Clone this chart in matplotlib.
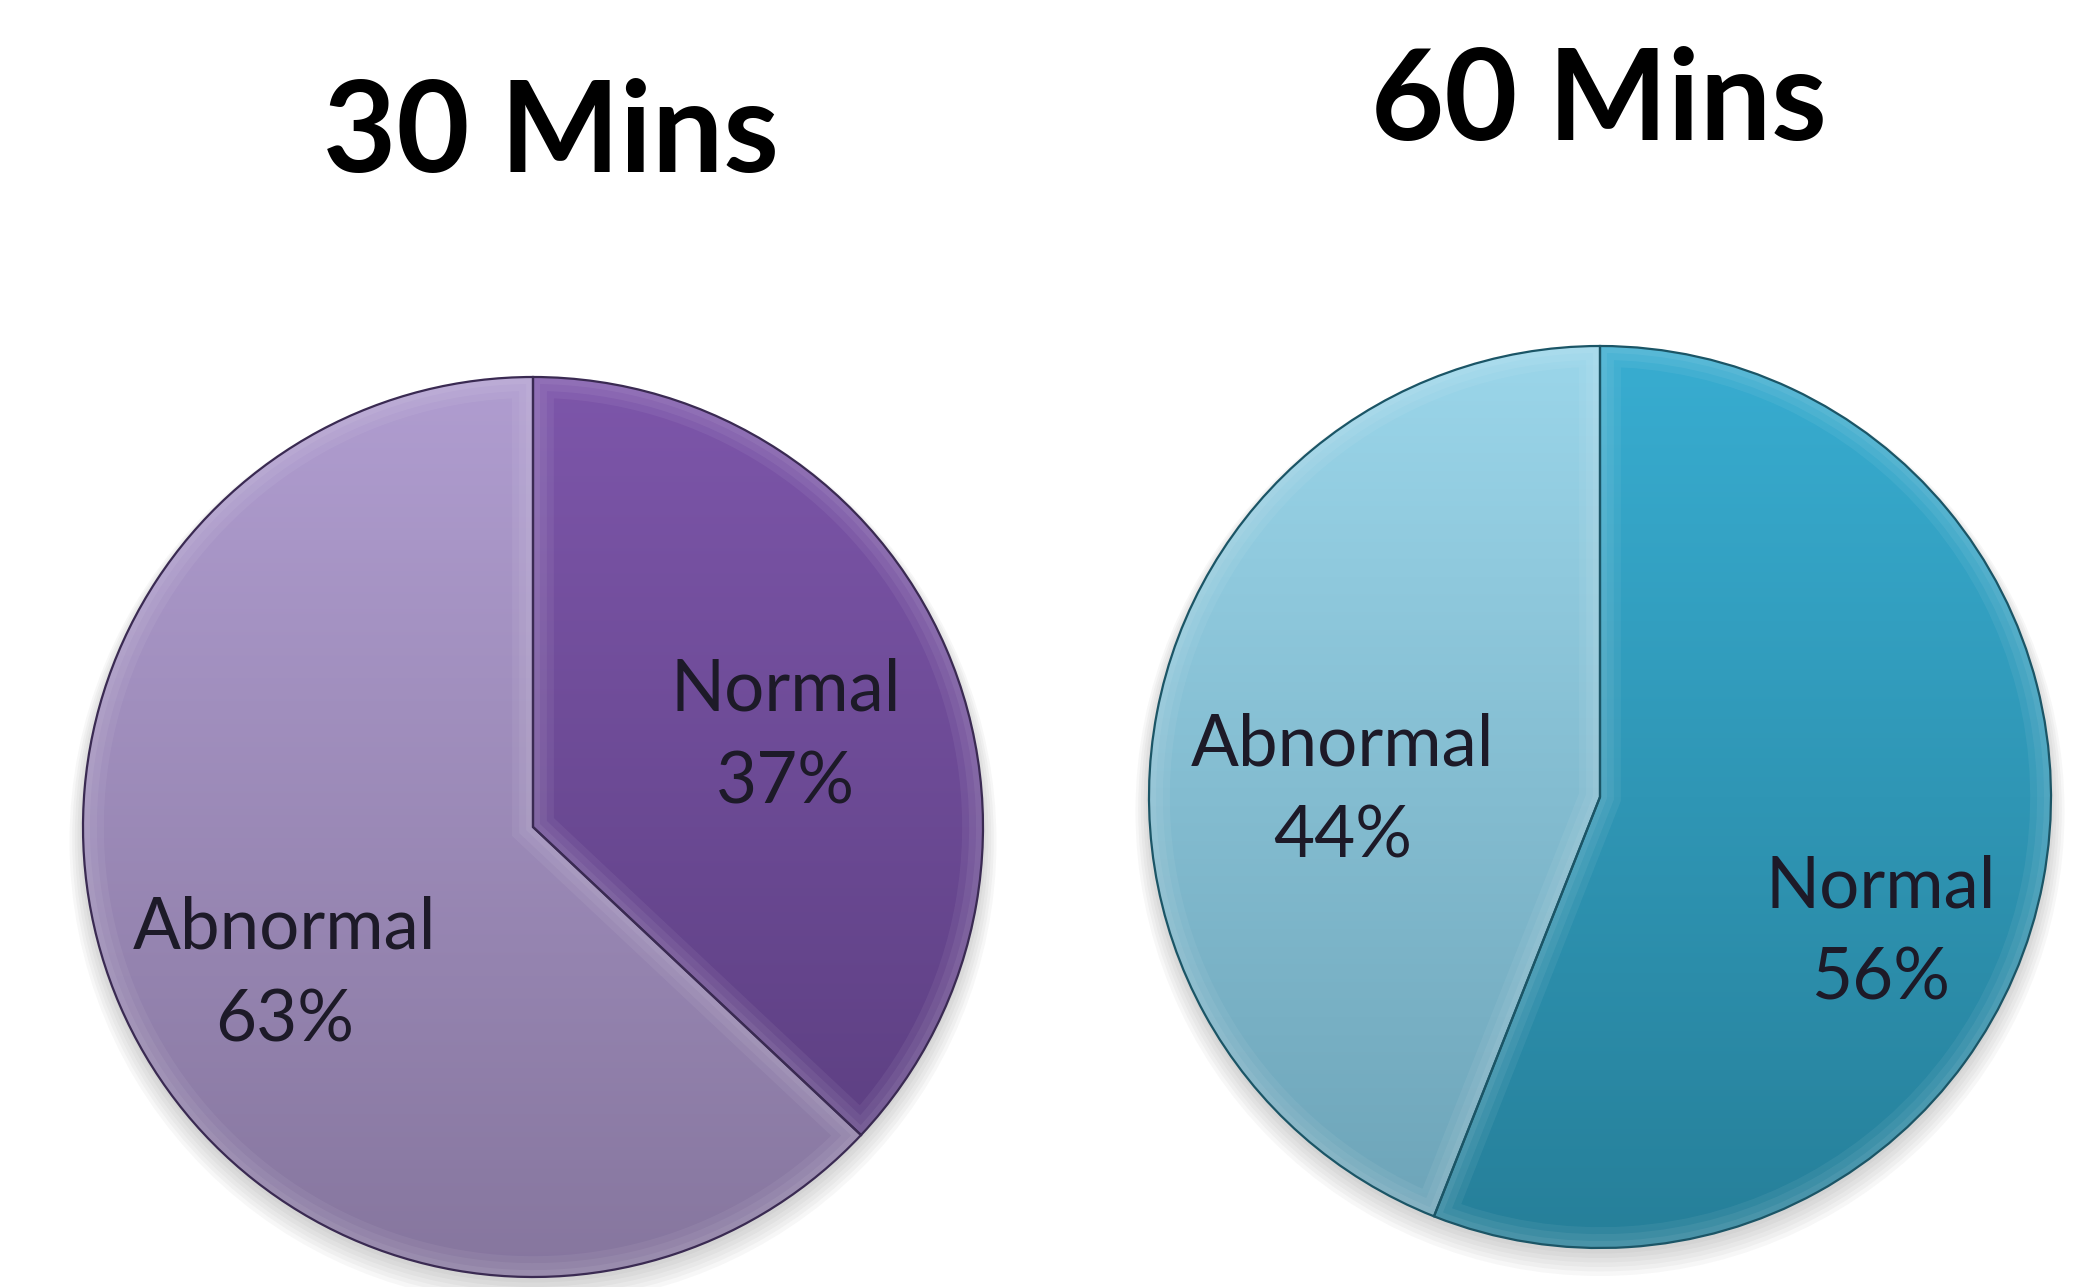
import numpy as np
import matplotlib.pyplot as plt
from matplotlib import font_manager
from matplotlib.colors import to_rgb
from matplotlib.patches import Circle, PathPatch

titles = ["30 Mins", "60 Mins"]
labels = ["Normal", "Abnormal"]
values_30 = [37, 63]
values_60 = [56, 44]

# gradient colours per slice (top, bottom)
top_30 = ["#7d56aa", "#b09dd0"]
bottom_30 = ["#583c7c", "#86769e"]
top_60 = ["#38add1", "#9bd6ea"]
bottom_60 = ["#267f99", "#6ca3b7"]
edge_30 = "#3a2a52"
edge_60 = "#1b5566"


def pick_font(names):
    for n in names:
        try:
            font_manager.findfont(n, fallback_to_default=False)
            return n
        except Exception:
            pass
    return "DejaVu Sans"


title_font = pick_font(["Lato", "DejaVu Sans"])
label_font = pick_font(["Lato", "Open Sans", "DejaVu Sans"])

W, H = 2086, 1287
fig = plt.figure(figsize=(W / 100, H / 100), dpi=100)


def shade(ax, wedge, top, bottom):
    t = np.linspace(0, 1, 256)[:, None, None]
    img = np.array(to_rgb(top)) * (1 - t) + np.array(to_rgb(bottom)) * t
    im = ax.imshow(img, extent=(-1, 1, -1, 1), origin="upper", aspect="auto",
                   interpolation="bilinear", zorder=1)
    im.set_clip_path(wedge)


def draw_pie(box, values, tops, bottoms, edge, text_pos):
    ax = fig.add_axes(box)
    # soft shadow
    for k in range(6):
        ax.add_patch(Circle((0, -0.012 - 0.004 * k), 1.0 + 0.006 * k,
                            color="0.4", alpha=0.05, lw=0, zorder=0, clip_on=False))
    wedges, _ = ax.pie(values, startangle=90, counterclock=False, radius=1,
                       wedgeprops=dict(linewidth=0))
    for w, tc, bc in zip(wedges, tops, bottoms):
        w.set_facecolor("none")
        shade(ax, w, tc, bc)
        # soft bevel highlight along the edges
        for lw in (30, 20, 10):
            hl = PathPatch(w.get_path(), fill=False, edgecolor="white",
                           alpha=0.06, lw=lw, zorder=2)
            ax.add_patch(hl)
            hl.set_clip_path(w)
        w.set_edgecolor(edge)
        w.set_linewidth(1.6)
        w.set_zorder(3)
    for lab, v, (x, y1, y2) in zip(labels, values, text_pos):
        ax.text(x, y1, lab, ha="center", va="baseline", fontsize=51,
                family=label_font, color="#1d1a28", zorder=4)
        ax.text(x, y2, f"{v}%", ha="center", va="baseline", fontsize=51,
                family=label_font, color="#1d1a28", zorder=4)
    ax.set_xlim(-1, 1)
    ax.set_ylim(-1, 1)
    ax.set_axis_off()
    return ax


# pie 1: centre (533, 827) r 450 ; pie 2: centre (1600, 797) r 451 (pixels from top-left)
draw_pie([83 / W, (H - 1277) / H, 900 / W, 900 / H], values_30, top_30, bottom_30, edge_30,
         [(0.562, 0.258, 0.053), (-0.553, -0.271, -0.476)])
draw_pie([1149 / W, (H - 1248) / H, 902 / W, 902 / H], values_60, top_60, bottom_60, edge_60,
         [(0.623, -0.244, -0.448), (-0.570, 0.069, -0.135)])

fig.text(551 / W, 1 - 172 / H, titles[0], ha="center", va="baseline", fontsize=91,
         fontweight="bold", family=title_font, color="black")
fig.text(1599 / W, 1 - 140 / H, titles[1], ha="center", va="baseline", fontsize=91,
         fontweight="bold", family=title_font, color="black")

fig.savefig("out.png", dpi=100, facecolor="white")
